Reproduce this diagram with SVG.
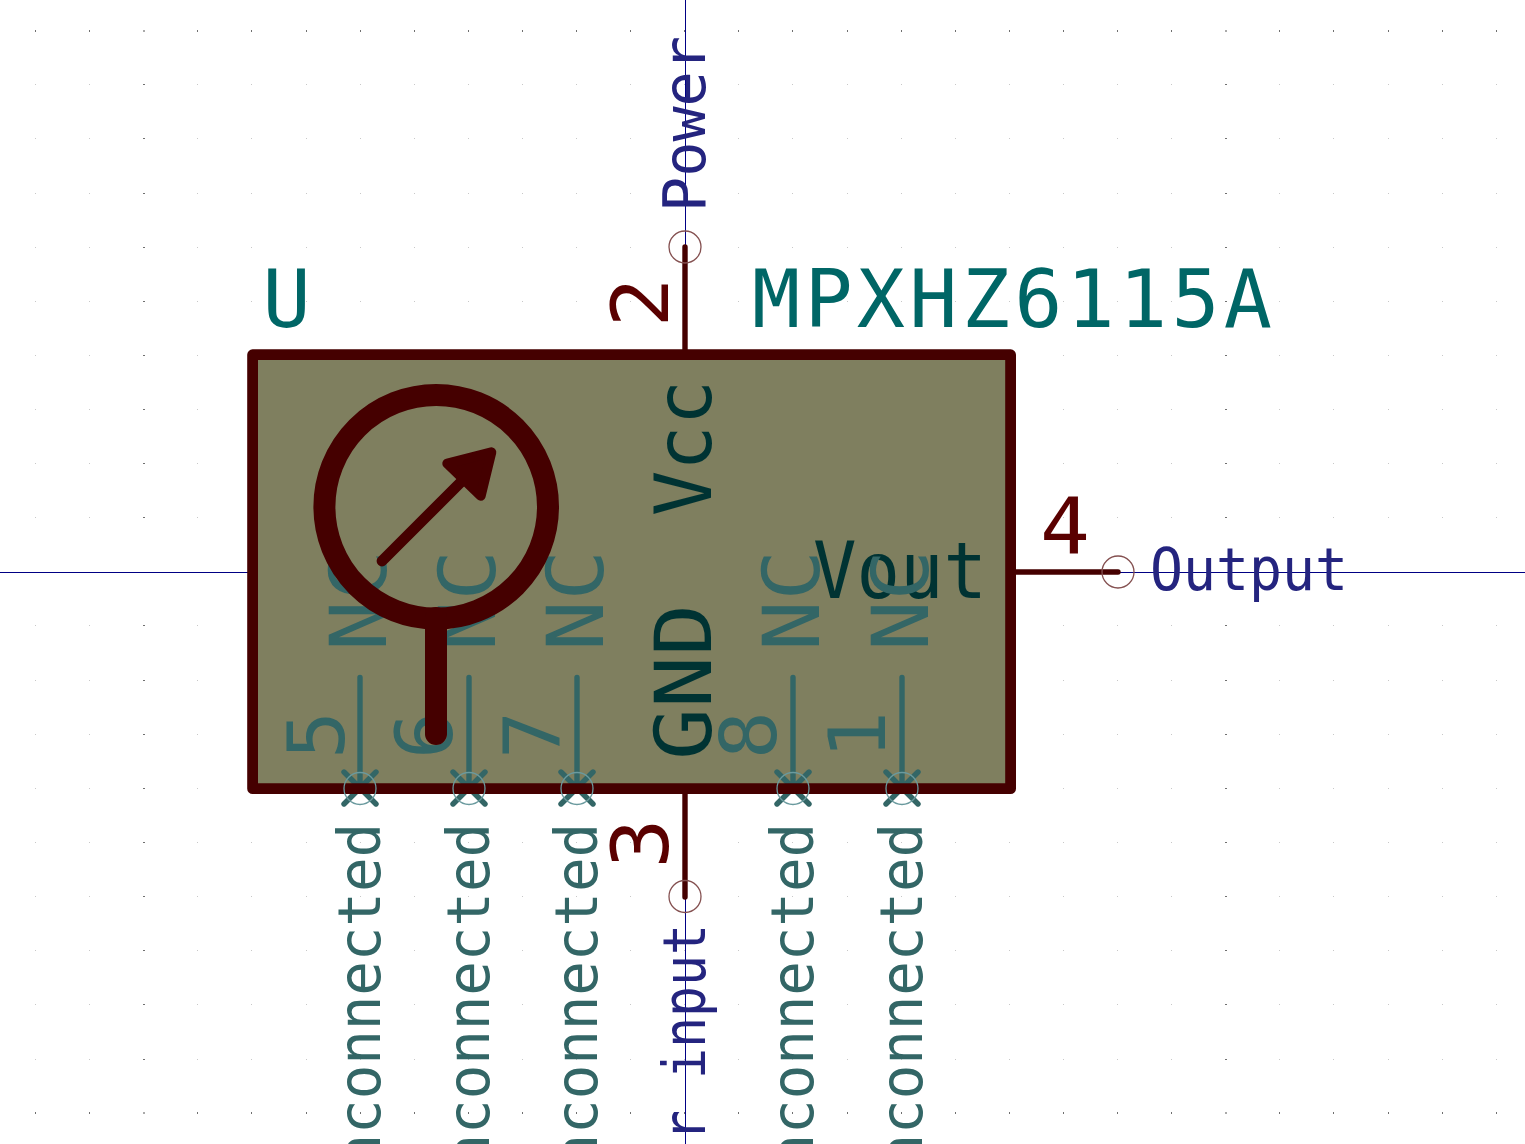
<svg xmlns="http://www.w3.org/2000/svg" width="1525" height="1144" viewBox="0 0 1525 1144">
<style>
text{font-family:"DejaVu Sans Mono","Liberation Mono",monospace}
.grid{fill:none;shape-rendering:crispEdges;stroke-dasharray:1 53.1}
.big{font-size:80px;fill:#006666}
.name{font-size:78px;fill:#003333}
.nc{font-size:78px;fill:#336666}
.num{font-size:78px;fill:#5a0000}
.net{font-size:59px;fill:#24247f}
.un{font-size:59px;fill:#336666}
.pin{stroke:#450000;stroke-width:5.4;stroke-linecap:round;fill:none}
.ncl{stroke:#336666;stroke-width:5.4;stroke-linecap:round;fill:none}
.ep{fill:none;stroke:#845050;stroke-width:1.3}
.epn{fill:none;stroke:#6a9a9e;stroke-width:1.3}
</style>
<rect width="1525" height="1144" fill="#ffffff"/>
<g id="grid">
<path class="grid" stroke="#c8c8c8" d="M35 84.5H1525M35 138.5H1525M35 193.5H1525M35 247.5H1525M35 301.5H1525M35 355.5H1525M35 409.5H1525M35 463.5H1525M35 517.5H1525M35 625.5H1525M35 680.5H1525M35 734.5H1525M35 788.5H1525M35 842.5H1525M35 896.5H1525M35 950.5H1525M35 1004.5H1525M35 1059.5H1525"/>
<path class="grid" stroke="#707070" stroke-width="2" d="M35 31H1525M35 1113H1525"/>
<path fill="none" stroke="#707070" stroke-width="1" shape-rendering="crispEdges" d="M143 84.500h2M143 138.500h2M143 193.500h2M143 247.500h2M143 301.500h2M143 355.500h2M143 409.500h2M143 463.500h2M143 517.500h2M143 625.500h2M143 680.500h2M143 734.500h2M143 788.500h2M143 842.500h2M143 896.500h2M143 950.500h2M143 1004.500h2M143 1059.500h2M1225 84.500h2M1225 138.500h2M1225 193.500h2M1225 247.500h2M1225 301.500h2M1225 355.500h2M1225 409.500h2M1225 463.500h2M1225 517.500h2M1225 625.500h2M1225 680.500h2M1225 734.500h2M1225 788.500h2M1225 842.500h2M1225 896.500h2M1225 950.500h2M1225 1004.500h2M1225 1059.500h2"/>
<path fill="#aaaaaa" d="M143 30h2v2h-2zM1225 30h2v2h-2zM143 1112h2v2h-2zM1225 1112h2v2h-2z"/>
</g>
<g id="axes" stroke="#000084" stroke-width="1" shape-rendering="crispEdges">
<path d="M685.500 0V1144M0 572.500H1525"/>
</g>
<g id="body-fill"><rect x="252.600" y="354.700" width="758" height="434" fill="#7f7f5f"/></g>
<g id="name-texts">
<text class="name" transform="translate(710.500 516) rotate(-90)" textLength="136" lengthAdjust="spacingAndGlyphs">Vcc</text>
<text class="name" transform="translate(710.500 760) rotate(-90)" textLength="156" lengthAdjust="spacingAndGlyphs">GND</text>
<text class="name" x="813" y="597.500" textLength="174" lengthAdjust="spacingAndGlyphs">Vout</text>
</g>
<g id="connectors">
<path class="pin" d="M685 247V350M685 794V897M1016 572H1118"/>
<path class="ncl" d="M360 677.500V788M344 772L376 804M376 772L344 804"/>
<path class="ncl" d="M469 677.500V788M453 772L485 804M485 772L453 804"/>
<path class="ncl" d="M577 677.500V788M561 772L593 804M593 772L561 804"/>
<path class="ncl" d="M793 677.500V788M777 772L809 804M809 772L777 804"/>
<path class="ncl" d="M902 677.500V788M886 772L918 804M918 772L886 804"/>
</g>
<g id="pin-5"><text class="nc" transform="translate(385.500 651) rotate(-90)" textLength="101" lengthAdjust="spacingAndGlyphs">NC</text><text class="nc" text-anchor="middle" transform="translate(343.500 735) rotate(-90)" textLength="48" lengthAdjust="spacingAndGlyphs">5</text><text class="un" text-anchor="end" transform="translate(379.500 823) rotate(-90)" textLength="380" lengthAdjust="spacingAndGlyphs">unconnected</text></g>
<g id="pin-6"><text class="nc" transform="translate(494.500 651) rotate(-90)" textLength="101" lengthAdjust="spacingAndGlyphs">NC</text><text class="nc" text-anchor="middle" transform="translate(451.500 735) rotate(-90)" textLength="48" lengthAdjust="spacingAndGlyphs">6</text><text class="un" text-anchor="end" transform="translate(488.500 823) rotate(-90)" textLength="380" lengthAdjust="spacingAndGlyphs">unconnected</text></g>
<g id="pin-7"><text class="nc" transform="translate(602.500 651) rotate(-90)" textLength="101" lengthAdjust="spacingAndGlyphs">NC</text><text class="nc" text-anchor="middle" transform="translate(559.500 735) rotate(-90)" textLength="48" lengthAdjust="spacingAndGlyphs">7</text><text class="un" text-anchor="end" transform="translate(596.500 823) rotate(-90)" textLength="380" lengthAdjust="spacingAndGlyphs">unconnected</text></g>
<g id="pin-8"><text class="nc" transform="translate(818.500 651) rotate(-90)" textLength="101" lengthAdjust="spacingAndGlyphs">NC</text><text class="nc" text-anchor="middle" transform="translate(775.500 735) rotate(-90)" textLength="48" lengthAdjust="spacingAndGlyphs">8</text><text class="un" text-anchor="end" transform="translate(812.500 823) rotate(-90)" textLength="380" lengthAdjust="spacingAndGlyphs">unconnected</text></g>
<g id="pin-1"><text class="nc" transform="translate(927.500 651) rotate(-90)" textLength="101" lengthAdjust="spacingAndGlyphs">NC</text><text class="nc" text-anchor="middle" transform="translate(884.500 735) rotate(-90)" textLength="48" lengthAdjust="spacingAndGlyphs">1</text><text class="un" text-anchor="end" transform="translate(921.500 823) rotate(-90)" textLength="380" lengthAdjust="spacingAndGlyphs">unconnected</text></g>
<g id="body">
<rect x="252.600" y="354.700" width="758" height="434" fill="none" stroke="#450000" stroke-width="10.800" stroke-linejoin="round"/>
<circle cx="436.200" cy="506.800" r="111.800" fill="none" stroke="#450000" stroke-width="22"/>
<path d="M436 618V734" fill="none" stroke="#450000" stroke-width="22" stroke-linecap="round"/>
<path d="M382 561L470 473" fill="none" stroke="#450000" stroke-width="10.800" stroke-linecap="round"/>
<path d="M491.300 452.300L447.300 463.500L480.700 495.700Z" fill="#450000" stroke="#450000" stroke-width="10" stroke-linejoin="round"/>
</g>
<g id="end-markers">
<circle class="ep" cx="685" cy="247" r="16"/><circle class="ep" cx="685" cy="896.500" r="16"/><circle class="ep" cx="1118" cy="572" r="16"/>
<circle class="epn" cx="360" cy="788.500" r="16"/><circle class="epn" cx="469" cy="788.500" r="16"/><circle class="epn" cx="577" cy="788.500" r="16"/><circle class="epn" cx="793" cy="788.500" r="16"/><circle class="epn" cx="902" cy="788.500" r="16"/>
</g>
<g id="pin-2"><text class="num" text-anchor="middle" transform="translate(667.500 302.500) rotate(-90)" textLength="50" lengthAdjust="spacingAndGlyphs">2</text><text class="net" transform="translate(704.500 212) rotate(-90)" textLength="176" lengthAdjust="spacingAndGlyphs">Power</text></g>
<g id="pin-3"><text class="num" text-anchor="middle" transform="translate(667.500 843.500) rotate(-90)" textLength="50" lengthAdjust="spacingAndGlyphs">3</text><text class="net" text-anchor="end" transform="translate(704.500 924) rotate(-90)" textLength="372" lengthAdjust="spacingAndGlyphs">Sensor input</text></g>
<g id="pin-4"><text class="num" text-anchor="middle" x="1065" y="554" textLength="50" lengthAdjust="spacingAndGlyphs">4</text><text class="net" x="1150" y="589.500" textLength="198" lengthAdjust="spacingAndGlyphs">Output</text></g>
<g id="labels">
<text class="big" text-anchor="middle" x="286.500" y="326.500">U</text>
<text class="big" x="752" y="326.500" textLength="520" lengthAdjust="spacing">MPXHZ6115A</text>
</g>
</svg>
